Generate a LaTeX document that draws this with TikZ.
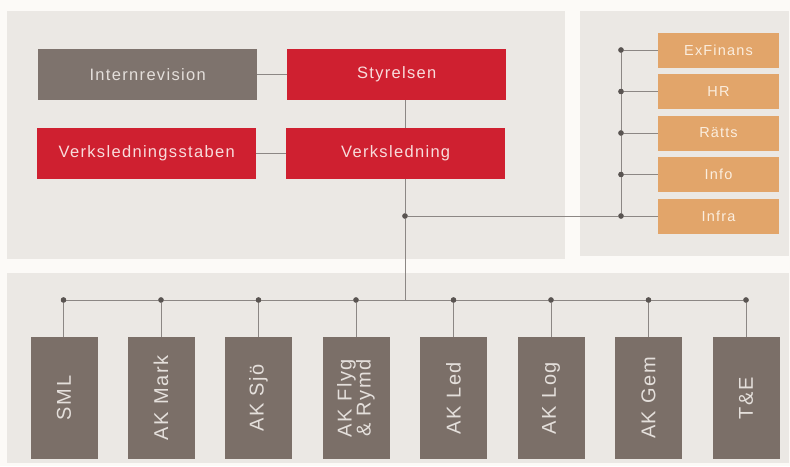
\documentclass[tikz,border=0pt]{standalone}
\usepackage{fontspec}
\setmainfont{Liberation Sans}
\newfontfamily\lblfont[LetterSpace=8]{Liberation Sans}
\usetikzlibrary{positioning}
\definecolor{bgc}{HTML}{FCFAF7}
\definecolor{panelc}{HTML}{EBE8E4}
\definecolor{redc}{HTML}{CF2030}
\definecolor{greyc}{HTML}{7E736D}
\definecolor{unitc}{HTML}{7B6F68}
\definecolor{orangec}{HTML}{E2A56A}
\definecolor{linec}{HTML}{8C8784}
\definecolor{dotc}{HTML}{595451}
\definecolor{redtxt}{HTML}{F8DCDC}
\definecolor{greytxt}{HTML}{E4DFDB}
\definecolor{orangetxt}{HTML}{FBEEDF}
\tikzset{
  panel/.style={fill=panelc, draw=none},
  topbox/.style={draw=none, anchor=north west, minimum width=219pt, minimum height=51pt, inner sep=0pt, font=\lblfont\fontsize{16.5}{18}\selectfont},
  redbox/.style={topbox, fill=redc, text=redtxt},
  greybox/.style={topbox, fill=greyc, text=greytxt},
  orangebox/.style={draw=none, fill=orangec, text=orangetxt, minimum width=121pt, minimum height=35pt, inner sep=0pt, font=\lblfont\fontsize{14.5}{16}\selectfont},
  unitbox/.style={draw=none, fill=unitc, text=greytxt, rotate=90, minimum width=122pt, minimum height=67pt, inner sep=0pt, align=center, font=\lblfont\fontsize{20}{20}\selectfont},
  conn/.style={draw=linec, line width=0.9pt},
  jdot/.style={circle, fill=dotc, draw=none, minimum size=5.4pt, inner sep=0pt}
}
\begin{document}
\begin{tikzpicture}[x=1pt, y=-1pt]
\useasboundingbox (0,0) rectangle (790,466);
\fill[bgc] (0,0) rectangle (790,466);
% panels
\fill[panelc] (7,11) rectangle (565,259);
\fill[panelc] (580,11) rectangle (789,256);
\fill[panelc] (7,273) rectangle (789,463);

% top boxes
\node[greybox] (intern) at (38,49) {Internrevision};
\node[redbox] (styr) at (287,49) {Styrelsen};
\node[redbox] (vstab) at (37,128) {Verksledningsstaben};
\node[redbox] (vled) at (286,128) {Verksledning};

% staff boxes
\node[orangebox] (ekf) at (718.5,50) {ExFinans};
\node[orangebox] (hr) at (718.5,91.5) {HR};
\node[orangebox] (ratts) at (718.5,133) {Rätts};
\node[orangebox] (info) at (718.5,174.5) {Info};
\node[orangebox] (infra) at (718.5,216) {Infra};

% unit boxes
\node[unitbox] (u1) at (64,398) {SML};
\node[unitbox] (u2) at (161,398) {AK Mark};
\node[unitbox] (u3) at (258.5,398) {AK Sjö};
\node[unitbox] (u4) at (356,398) {AK Flyg\\[-1pt]\& Rymd};
\node[unitbox] (u5) at (453.5,398) {AK Led};
\node[unitbox] (u6) at (551,398) {AK Log};
\node[unitbox] (u7) at (648.5,398) {AK Gem};
\node[unitbox] (u8) at (746,398) {T\&E};

% coordinates
\coordinate (j) at (405,216);
\coordinate (corner) at (405,300);

% staff bus dots
\node[jdot] (s1) at (621,50) {};
\node[jdot] (s2) at (621,91.5) {};
\node[jdot] (s3) at (621,133) {};
\node[jdot] (s4) at (621,174.5) {};
\node[jdot] (s5) at (621,216) {};
\node[jdot] (jd) at (j) {};

% unit bus dots
\node[jdot] (b1) at (63.5,300) {};
\node[jdot] (b2) at (161,300) {};
\node[jdot] (b3) at (258.5,300) {};
\node[jdot] (b4) at (356,300) {};
\node[jdot] (b5) at (453.5,300) {};
\node[jdot] (b6) at (551,300) {};
\node[jdot] (b7) at (648.5,300) {};
\node[jdot] (b8) at (746,300) {};

% connectors top
\draw[conn] (intern.east) -- (styr.west);
\draw[conn] (vstab.east) -- (vled.west);
\draw[conn] (j |- styr.south) -- (j |- vled.north);
\draw[conn] (j |- vled.south) -- (jd.north);
\draw[conn] (jd.south) -- (corner);
\draw[conn] (jd.east) -- (s5.west);
\draw[conn] (s1.center) -- (s5.center);
\foreach \s/\b in {s1/ekf, s2/hr, s3/ratts, s4/info, s5/infra}
  \draw[conn] (\s.east) -- (\b.west);
% unit bus
\draw[conn] (b1.center) -- (b8.center);
\foreach \b/\u in {b1/u1, b2/u2, b3/u3, b4/u4, b5/u5, b6/u6, b7/u7, b8/u8}
  \draw[conn] (\b.south) -- (\b |- \u.east);
% redraw dots on top
\foreach \d in {s1,s2,s3,s4,s5,jd,b1,b2,b3,b4,b5,b6,b7,b8}
  \fill[dotc] (\d) circle (2.7pt);
\end{tikzpicture}
\end{document}
